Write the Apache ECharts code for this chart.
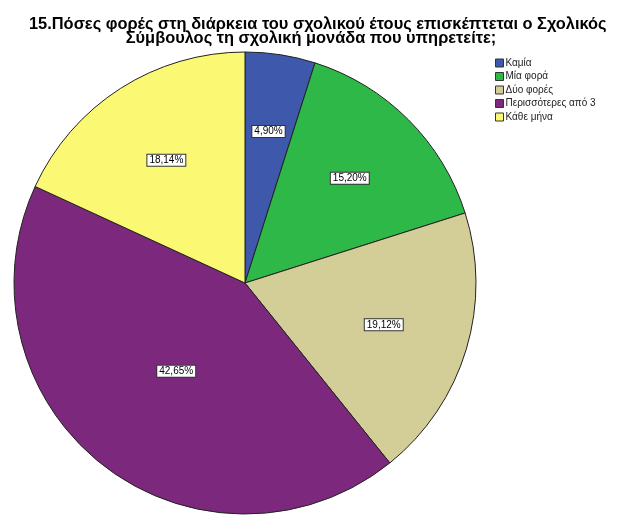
<!DOCTYPE html>
<html>
<head>
<meta charset="utf-8">
<script src="https://cdn.jsdelivr.net/npm/echarts@6/dist/echarts.min.js"></script>
<style>
html,body{margin:0;padding:0;background:#fff;}
#main{width:622px;height:515px;}
</style>
</head>
<body>
<div id="main"></div>
<script>
const categories = ['Καμία', 'Μία φορά', 'Δύο φορές', 'Περισσότερες από 3', 'Κάθε μήνα'];
const percents = [4.90, 15.20, 19.12, 42.65, 18.14];
const colors = ['#3E58AC', '#2EB848', '#D3CE97', '#7C287D', '#FBF873'];
const titleLines = [
  '15.Πόσες φορές στη διάρκεια του σχολικού έτους επισκέπτεται ο Σχολικός',
  'Σύμβουλος τη σχολική μονάδα που υπηρετείτε;'
];

const CX = 245, CY = 283, R = 231;
const total = percents.reduce((a, b) => a + b, 0);
// label anchor: centroid of each sector, derived from the data
const labelPos = (function () {
  let acc = 0;
  return percents.map(p => {
    const th = p / total * 2 * Math.PI;
    const mid = acc + th / 2;
    acc += th;
    const h = th / 2;
    const d = R * (2 / 3) * Math.sin(h) / h;
    return [CX + d * Math.sin(mid), CY - d * Math.cos(mid)];
  });
})();

const FONT = 'Liberation Sans, Arial, sans-serif';
const titleStyle = {
  fontFamily: FONT,
  fontSize: 16.4,
  fontWeight: 'bold',
  color: '#000',
  lineHeight: 14
};
const chart = echarts.init(document.getElementById('main'), null, {renderer: 'canvas'});
chart.setOption({
  backgroundColor: '#fff',
  animation: false,
  title: [
    {text: titleLines[0], left: 29, top: 17, padding: 0, textStyle: titleStyle},
    {text: titleLines[1], left: 'center', top: 31, padding: 0, textStyle: titleStyle}
  ],
  legend: {
    orient: 'vertical',
    left: 495,
    top: 58,
    padding: 0,
    itemWidth: 8,
    itemHeight: 8,
    itemGap: 3.5,
    icon: 'rect',
    data: categories,
    textStyle: {
      fontFamily: FONT,
      fontSize: 10,
      color: '#222',
      padding: [0, 0, 0, -3]
    },
    itemStyle: {borderColor: '#333', borderWidth: 1}
  },
  series: [{
    type: 'pie',
    center: [CX, CY],
    radius: [0, R],
    startAngle: 90,
    clockwise: true,
    avoidLabelOverlap: false,
    itemStyle: {borderColor: '#222', borderWidth: 1},
    emphasis: {disabled: true},
    label: {
      show: true,
      position: 'inside',
      formatter: p => p.value.toFixed(2).replace('.', ',') + '%',
      fontFamily: FONT,
      fontSize: 10,
      color: '#000',
      backgroundColor: '#fff',
      borderColor: '#333',
      borderWidth: 1,
      padding: [1, 2, 0, 2]
    },
    labelLine: {show: false},
    labelLayout: function (params) {
      const pos = labelPos[params.dataIndex];
      return {x: pos[0], y: pos[1], align: 'center', verticalAlign: 'middle'};
    },
    data: categories.map((c, i) => ({name: c, value: percents[i], itemStyle: {color: colors[i]}}))
  }]
});
</script>
</body>
</html>
